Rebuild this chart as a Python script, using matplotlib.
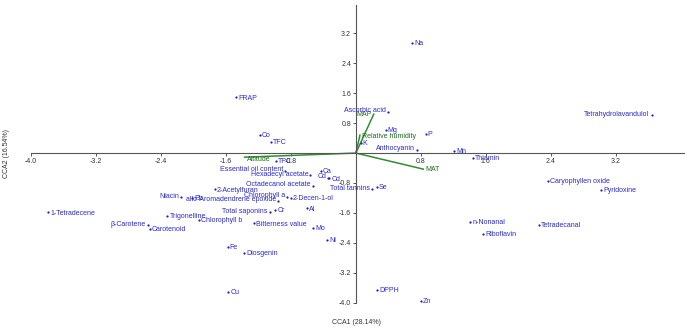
import matplotlib
matplotlib.use("Agg")
import matplotlib.pyplot as plt
import numpy as np

plt.rcParams["font.family"] = ["Liberation Sans", "DejaVu Sans"]

# response variables (site/species scores), CCA1 vs CCA2
NAMES = ["Na", "Ascorbic acid", "Mg", "P", "K", "Anthocyanin", "Mn", "Thiamin",
         "Tetrahydrolavandulol", "Caryophyllen oxide", "Pyridoxine", "Tetradecanal",
         "n-Nonanal", "Riboflavin", "Se", "Total tannins", "DPPH", "Zn",
         "FRAP", "Co", "TFC", "TPC", "Essential oil content", "Hexadecyl acetate",
         "Ca", "Cd", "Cd", "Octadecanol acetate", "Chlorophyll a", "2-Decen-1-ol",
         "allo-Aromadendrene epoxide", "Total saponins", "Cr", "Al", "2-Acetylfuran",
         "Pb", "Niacin", "1-Tetradecene", "Trigonelline", "Chlorophyll b",
         "β-Carotene", "Carotenoid", "Bitterness value", "Mo", "Ni", "Fe",
         "Diosgenin", "Cu"]
CCA1 = [0.69, 0.39, 0.365, 0.86, 0.06, 0.75, 1.21, 1.44,
        3.64, 2.36, 3.02, 2.25,
        1.41, 1.57, 0.26, 0.20, 0.26, 0.80,
        -1.47, -1.18, -1.05, -0.98, -0.87, -0.56,
        -0.43, -0.34, -0.33, -0.53, -0.85, -0.80,
        -0.96, -1.06, -0.99, -0.60, -1.74,
        -2.02, -2.15, -3.79, -2.32, -1.93,
        -2.56, -2.54, -1.25, -0.53, -0.35, -1.58,
        -1.38, -1.57]
CCA2 = [2.94, 1.10, 0.61, 0.51, 0.28, 0.08, 0.05, -0.14,
        1.01, -0.74, -0.99, -1.92,
        -1.84, -2.17, -0.91, -0.97, -3.67, -3.95,
        1.49, 0.48, 0.30, -0.21, -0.48, -0.60,
        -0.48, -0.67, -0.68, -0.88, -1.17, -1.20,
        -1.28, -1.58, -1.51, -1.48, -0.97,
        -1.21, -1.18, -1.59, -1.69, -1.79,
        -1.93, -2.02, -1.88, -2.01, -2.33, -2.52,
        -2.67, -3.72]

# environmental vectors
ENV_NAMES = ["MAP", "Relative humidity", "MAT", "Altitude"]
ENV_X = [0.22, 0.05, 0.83, -1.37]
ENV_Y = [1.04, 0.48, -0.43, -0.11]

# points whose label sits left of the dot (index into NAMES)
LEFT = {1, 5, 8, 15, 22, 23, 25, 27, 28, 30, 31, 36, 40}

W, H = 685, 330
fig = plt.figure(figsize=(W / 100, H / 100), dpi=100)
ax = fig.add_axes([31 / W, (H - 302.6) / H, (684 - 31) / W, (302.6 - 5) / H])
ax.set_xlim(-4.0, 4.04)
ax.set_ylim(-4.0, 3.96)

for s in ["top", "right"]:
    ax.spines[s].set_visible(False)
for s in ["left", "bottom"]:
    ax.spines[s].set_position(("data", 0))
    ax.spines[s].set_color("#555555")
    ax.spines[s].set_linewidth(0.8)

xt = [-4.0, -3.2, -2.4, -1.6, -0.8, 0.8, 1.6, 2.4, 3.2]
yt = [3.2, 2.4, 1.6, 0.8, -0.8, -1.6, -2.4, -3.2, -4.0]
ax.set_xticks(xt); ax.set_xticklabels([f"{v:.1f}" for v in xt])
ax.set_yticks(yt); ax.set_yticklabels([f"{v:.1f}" for v in yt])
ax.tick_params(axis="both", length=2.5, width=0.7, color="#555555",
               labelsize=5, labelcolor="#333333", pad=1)

green = "#2f8f2f"
for n, ex, ey in zip(ENV_NAMES, ENV_X, ENV_Y):
    ax.plot([0, ex], [0, ey], color=green, lw=1.1, zorder=2)
env_off = {"MAP": (-1.5, 0, "right"), "Relative humidity": (1.2, -1.2, "left"),
           "MAT": (1.5, -0.5, "left"), "Altitude": (2, -1.5, "left")}
for n, ex, ey in zip(ENV_NAMES, ENV_X, ENV_Y):
    dx, dy, ha = env_off[n]
    ax.annotate(n, (ex, ey), xytext=(dx, dy), textcoords="offset points",
                ha=ha, va="center", fontsize=5, color="#1d6b1d", zorder=4)

blue = "#2a2ad0"
ax.plot(CCA1, CCA2, "o", ms=1.6, color="#1f1fb0", mec="none", zorder=3)
for i, (n, x, y) in enumerate(zip(NAMES, CCA1, CCA2)):
    if i in LEFT:
        ax.annotate(n, (x, y), xytext=(-1.5, 0.8), textcoords="offset points",
                    ha="right", va="center", fontsize=5, color=blue, zorder=4)
    else:
        ax.annotate(n, (x, y), xytext=(1.5, -0.5), textcoords="offset points",
                    ha="left", va="center", fontsize=5, color=blue, zorder=4)

fig.text(357 / W, 1 - 322 / H, "CCA1 (28.14%)", ha="center", va="center",
         fontsize=5, color="#333333")
fig.text(7 / W, 1 - 153 / H, "CCA2 (16.54%)", ha="center", va="center",
         rotation=90, fontsize=5, color="#333333")

fig.savefig("out.png", dpi=100)
